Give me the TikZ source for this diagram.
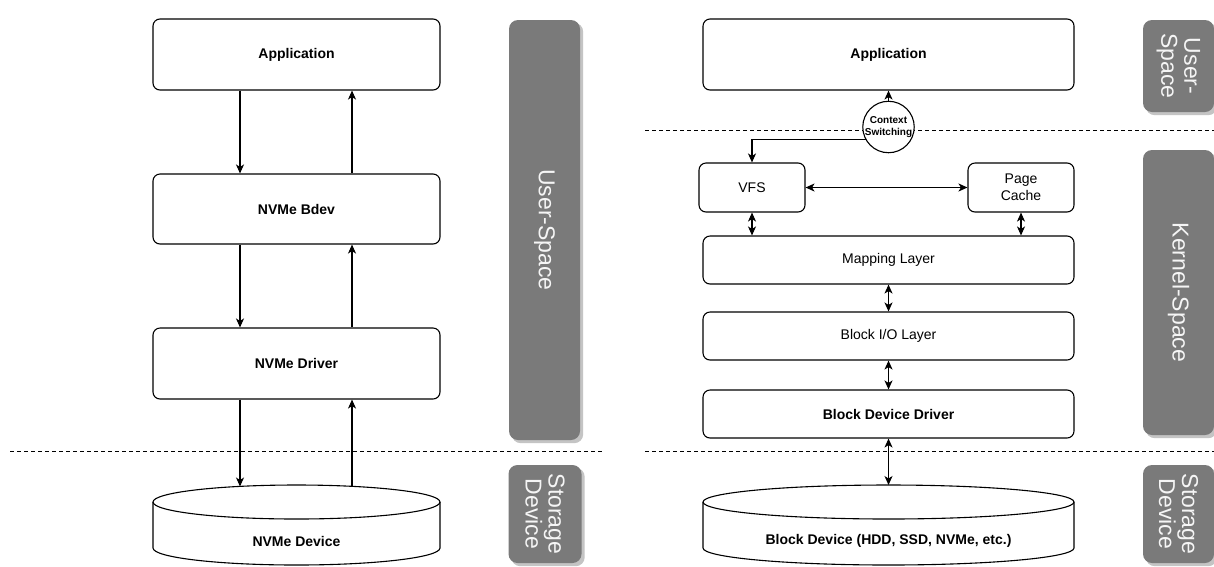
\documentclass[tikz,border=0pt]{standalone}
\usepackage{fontspec}
\setmainfont{Liberation Sans}
\usetikzlibrary{arrows.meta,calc,backgrounds}
\definecolor{bandgray}{RGB}{122,122,122}
\definecolor{bandshadow}{RGB}{196,196,196}
\definecolor{bandtext}{RGB}{245,245,245}

\begin{document}
\begin{tikzpicture}[x=1pt,y=-1pt,
  box/.style={draw,line width=1.1pt,rounded corners=7pt,fill=white,inner sep=0pt,
    align=center,font=\fontsize{14}{17}\selectfont},
  boldbox/.style={box,font=\fontsize{14}{17}\selectfont\bfseries},
  tip/.tip={Stealth[length=9pt,width=8pt,inset=2.5pt]},
  arr/.style={line width=1.1pt,-tip},
  darr/.style={line width=1.1pt,tip-tip},
  sep/.style={line width=0.9pt,dash pattern=on 4pt off 3pt},
  band/.style={fill=bandgray,rounded corners=9pt,text=bandtext,inner sep=0pt,
    align=center,font=\fontsize{23}{23}\selectfont,rotate=-90},
  cyl/.style={line width=1.1pt,fill=white},
]
\useasboundingbox (0,0) rectangle (1214,566);

% ---------------- separators ----------------
\draw[sep] (10,451) -- (604,451);
\draw[sep] (645,451) -- (1214,451);
\draw[sep] (645,130) -- (1214,130);

% ---------------- SPDK stack (left) ----------------
\node[boldbox,minimum width=287pt,minimum height=71pt] (app)  at (296.5,54.5) {Application};
\node[boldbox,minimum width=287pt,minimum height=70pt] (bdev) at (296.5,209)  {NVMe Bdev};
\node[boldbox,minimum width=287pt,minimum height=71pt] (drv)  at (296.5,363.5) {NVMe Driver};

% NVMe device cylinder (y axis points down, so arcs use negative y radius to bulge downwards)
\draw[cyl] (153,502) -- (153,548) arc[start angle=180,end angle=360,x radius=143.5,y radius=-17]
  -- (440,502) arc[start angle=0,end angle=180,x radius=143.5,y radius=-17] -- cycle;
\draw[line width=1.1pt] (153,502) arc[start angle=180,end angle=360,x radius=143.5,y radius=-17];
\node[font=\fontsize{14}{17}\selectfont\bfseries] (nvme) at (296.5,541) {NVMe Device};
\coordinate (nvmeinA) at (240,486.5);
\coordinate (nvmeinB) at (352,486.5);

\coordinate (lx1) at (240,0);
\coordinate (lx2) at (352,0);
\draw[arr] (app.south -| lx1) -- (bdev.north -| lx1);
\draw[arr] (bdev.north -| lx2) -- (app.south -| lx2);
\draw[arr] (bdev.south -| lx1) -- (drv.north -| lx1);
\draw[arr] (drv.north -| lx2) -- (bdev.south -| lx2);
\draw[arr] (drv.south -| lx1) -- (nvmeinA);
\draw[arr] (nvmeinB) -- (drv.south -| lx2);

% ---------------- kernel stack (right) ----------------
\node[boldbox,minimum width=371pt,minimum height=71pt] (rapp) at (888.5,54.5) {Application};
\node[box,minimum width=106pt,minimum height=49pt] (vfs) at (752,187.5) {VFS};
\node[box,minimum width=106pt,minimum height=49pt] (pc)  at (1021,187.5) {Page\\Cache};
\node[box,minimum width=371pt,minimum height=48pt] (map) at (888.5,260) {Mapping Layer};
\node[box,minimum width=371pt,minimum height=48pt] (bio) at (888.5,336) {Block I/O Layer};
\node[boldbox,minimum width=371pt,minimum height=48pt] (bdd) at (888.5,414) {Block Device Driver};

% block device cylinder
\draw[cyl] (703,502) -- (703,548) arc[start angle=180,end angle=360,x radius=185.5,y radius=-17]
  -- (1074,502) arc[start angle=0,end angle=180,x radius=185.5,y radius=-17] -- cycle;
\draw[line width=1.1pt] (703,502) arc[start angle=180,end angle=360,x radius=185.5,y radius=-17];
\node[font=\fontsize{14}{17}\selectfont\bfseries] (blk) at (888.5,541) {Block Device (HDD, SSD, NVMe, etc.)};
\coordinate (blkin) at (888.5,485);

% context switch between user and kernel space
\node[circle,draw,line width=1.1pt,fill=white,minimum size=50pt,inner sep=0pt,align=center,
  font=\fontsize{10}{11.5}\selectfont\bfseries] (ctx) at (888.5,127) {Context\\Switching};
\draw[arr] (ctx.north) -- (ctx.north |- rapp.south);
\draw[arr] (ctx.209) -| (vfs.north);

\draw[darr] (vfs.east) -- (pc.west);
\draw[darr] (vfs.south) -- (vfs.south |- map.north);
\draw[darr] (pc.south) -- (pc.south |- map.north);
\draw[darr] (map.south) -- (bio.north);
\draw[darr] (bio.south) -- (bdd.north);
\draw[darr] (bdd.south) -- (blkin);

% ---------------- space labels ----------------
\node[band,minimum width=420pt,minimum height=71pt] (lus)  at (544.5,230) {User-Space};
\node[band,minimum width=98pt,minimum height=73pt]  (lsd)  at (545,514)   {Storage\\Device};
\node[band,minimum width=92pt,minimum height=71pt]  (rus)  at (1178.5,66) {User-\\Space};
\node[band,minimum width=285pt,minimum height=71pt] (rks)  at (1178.5,292.5) {Kernel-Space};
\node[band,minimum width=98pt,minimum height=71pt]  (rsd)  at (1178.5,514) {Storage\\Device};

\begin{scope}[on background layer]
  \fill[white] (0,0) rectangle (1214,566);
  \foreach \b in {lus,lsd,rus,rks,rsd}
    \fill[bandshadow,rounded corners=9pt] ($(\b.south west)+(3,3)$) rectangle ($(\b.north east)+(3,3)$);
\end{scope}
\end{tikzpicture}
\end{document}
